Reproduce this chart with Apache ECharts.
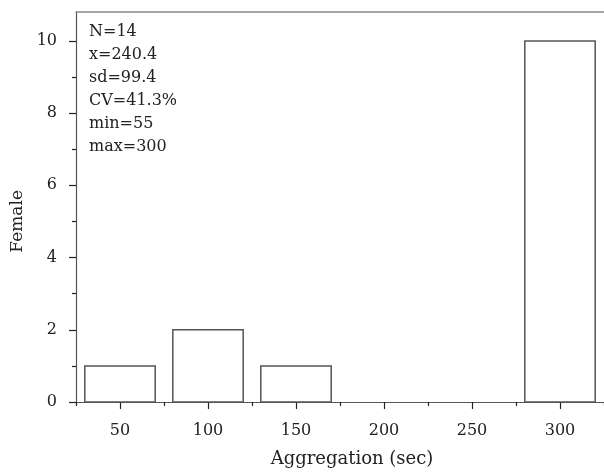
<!DOCTYPE html>
<html>
<head>
<meta charset="utf-8">
<script src="https://cdn.jsdelivr.net/npm/echarts@6/dist/echarts.min.js"></script>
<style>html,body{margin:0;padding:0;background:#fff}#c{width:604px;height:473px}</style>
</head>
<body>
<div id="c"></div>
<script>
var binCenters = [50, 100, 150, 200, 250, 300];
var counts = [1, 2, 1, 0, 0, 10];
var binWidth = 40;
var xTickLabels = [50, 100, 150, 200, 250, 300];
var xMinorTicks = [25, 75, 125, 175, 225, 275, 325];
var yTickLabels = [0, 2, 4, 6, 8, 10];
var yMinorTicks = [1, 3, 5, 7, 9];
var statsLines = ['N=14', 'x=240.4', 'sd=99.4', 'CV=41.3%', 'min=55', 'max=300'];

var FONT = 'DejaVu Serif';
var FS = 16;
var chart = echarts.init(document.getElementById('c'));
var lineCol = '#555';
var data = binCenters.map(function (c, i) { return [c, counts[i]]; });

chart.setOption({
  animation: false,
  grid: { left: 76, right: 0, top: 12, bottom: 67 },
  xAxis: [
    { type: 'value', min: 25, max: 325, position: 'bottom',
      axisLine: { show: true, lineStyle: { color: lineCol, width: 1.2 } },
      axisTick: { show: true, customValues: xTickLabels, length: 7, lineStyle: { color: '#222', width: 1.2 } },
      axisLabel: { customValues: xTickLabels, fontFamily: FONT, fontSize: FS, color: '#222', margin: 21 },
      splitLine: { show: false },
      name: 'Aggregation (sec)', nameLocation: 'middle', nameGap: 48,
      nameTextStyle: { fontFamily: FONT, fontSize: 18, color: '#222', padding: [0, 0, 0, 24] } },
    { type: 'value', min: 25, max: 325, position: 'bottom',
      axisLine: { show: false },
      axisTick: { show: true, customValues: xMinorTicks, length: 4, lineStyle: { color: '#222', width: 1.2 } },
      axisLabel: { show: false }, splitLine: { show: false } },
    { type: 'value', min: 25, max: 325, position: 'top',
      axisLine: { show: true, lineStyle: { color: '#888', width: 1.5 } },
      axisTick: { show: false }, axisLabel: { show: false }, splitLine: { show: false } }
  ],
  yAxis: [
    { type: 'value', min: 0, max: 10.8, position: 'left',
      axisLine: { show: true, lineStyle: { color: lineCol, width: 1.2 } },
      axisTick: { show: true, customValues: yTickLabels, length: 7, lineStyle: { color: '#222', width: 1.2 } },
      axisLabel: { customValues: yTickLabels, fontFamily: FONT, fontSize: FS, color: '#222', margin: 19 },
      splitLine: { show: false } },
    { type: 'value', min: 0, max: 10.8, position: 'left',
      axisLine: { show: false },
      axisTick: { show: true, customValues: yMinorTicks, length: 4, lineStyle: { color: '#222', width: 1.2 } },
      axisLabel: { show: false }, splitLine: { show: false } }
  ],
  graphic: [
    { type: 'text', left: 89, top: 20.5,
      style: { text: statsLines.join('\n'), fontFamily: FONT, fontSize: FS, lineHeight: 23, fill: '#222' } },
    { type: 'text', left: 9, top: 190, rotation: Math.PI / 2,
      style: { text: 'Female', fontFamily: FONT, fontSize: 17, fill: '#222' } }
  ],
  series: [{
    type: 'custom',
    xAxisIndex: 0, yAxisIndex: 0,
    data: data,
    renderItem: function (params, api) {
      var c = api.value(0), v = api.value(1);
      if (!v) return null;
      var p0 = api.coord([c - binWidth / 2, v]);
      var p1 = api.coord([c + binWidth / 2, 0]);
      return { type: 'rect', shape: { x: p0[0], y: p0[1], width: p1[0] - p0[0], height: p1[1] - p0[1] },
        style: { fill: '#fff', stroke: '#555', lineWidth: 1.5 } };
    }
  }]
});
</script>
</body>
</html>
